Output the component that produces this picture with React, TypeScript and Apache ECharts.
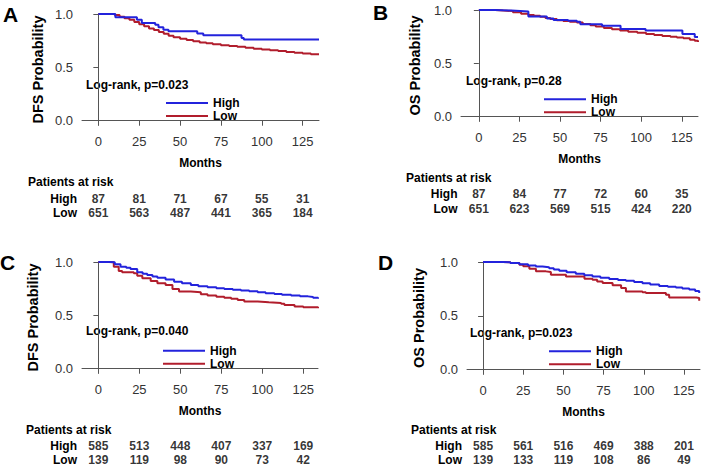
import React, { useEffect, useRef } from "react";
import * as echarts from "echarts";

const FONT = "'Liberation Sans', Arial, Helvetica, sans-serif";
const BLUE = "#2323dc";
const RED = "#b11d2c";

// Time points of the at-risk table (months)
const riskMonths = [0, 25, 50, 75, 100, 125];
const xTicks = [0, 25, 50, 75, 100, 125];
const yTicks = [0, 0.5, 1];

// Panel A (DFS)
const riskA_high = [87, 81, 71, 67, 55, 31];
const riskA_low = [651, 563, 487, 441, 365, 184];
const curveA_high = [[0, 1], [10.4, 0.97], [23.6, 0.947], [26.6, 0.916], [34.8, 0.9], [36.8, 0.876], [39.8, 0.853], [42.9, 0.838], [60.5, 0.817], [64.2, 0.8], [87.6, 0.776], [89, 0.76], [135, 0.76]];
const curveA_low = [[0, 1], [8, 1], [10, 0.99], [13, 0.975], [16, 0.96], [19, 0.945], [22, 0.925], [25, 0.905], [28, 0.885], [31, 0.865], [34, 0.85], [37, 0.832], [40, 0.815], [43, 0.797], [46, 0.782], [50, 0.768], [54, 0.757], [58, 0.745], [62, 0.734], [66, 0.725], [70, 0.717], [75, 0.708], [80, 0.7], [85, 0.692], [90, 0.683], [95, 0.675], [100, 0.668], [105, 0.66], [110, 0.653], [115, 0.645], [120, 0.638], [125, 0.63], [130, 0.622], [135, 0.617]];

// Panel B (OS)
const riskB_high = [87, 84, 77, 72, 60, 35];
const riskB_low = [651, 623, 569, 515, 424, 220];
const curveB_high = [[0, 1], [10, 0.995], [20, 0.99], [25.4, 0.985], [30.5, 0.94], [41.9, 0.92], [46, 0.907], [55, 0.9], [60.4, 0.89], [62.5, 0.866], [75.9, 0.853], [87.3, 0.822], [102.7, 0.807], [125.4, 0.776], [133, 0.748], [135, 0.748]];
const curveB_low = [[0, 1], [10, 0.995], [15, 0.99], [21, 0.978], [26, 0.965], [30.5, 0.953], [34, 0.945], [37.7, 0.937], [41, 0.925], [44, 0.915], [48, 0.905], [52, 0.897], [56, 0.89], [60.4, 0.883], [64, 0.87], [68.7, 0.857], [72, 0.845], [77, 0.832], [82, 0.82], [87, 0.808], [92, 0.796], [97.6, 0.787], [103, 0.776], [108, 0.766], [113, 0.757], [118, 0.749], [122, 0.742], [126, 0.735], [130, 0.722], [133, 0.712], [135, 0.7]];

// Panel C (DFS)
const riskC_high = [585, 513, 448, 407, 337, 169];
const riskC_low = [139, 119, 98, 90, 73, 42];
const curveC_high = [[0, 1], [7.4, 0.997], [10, 0.98], [13.5, 0.956], [17, 0.945], [19.6, 0.935], [23.7, 0.903], [27, 0.89], [29.8, 0.878], [33, 0.865], [36, 0.853], [41, 0.835], [46.2, 0.816], [51, 0.8], [56.4, 0.785], [61, 0.773], [66.6, 0.763], [72, 0.755], [76.8, 0.748], [82, 0.74], [87, 0.732], [92, 0.725], [97.2, 0.717], [102, 0.708], [107.4, 0.7], [112, 0.692], [117.6, 0.685], [123, 0.678], [127.9, 0.672], [131, 0.665], [134, 0.655]];
const curveC_low = [[0, 1], [6.3, 0.997], [9.4, 0.956], [12.4, 0.916], [14.5, 0.903], [21.6, 0.894], [23.7, 0.872], [26.8, 0.847], [31.9, 0.822], [36, 0.8], [41, 0.785], [45.2, 0.748], [49.2, 0.723], [56.4, 0.717], [62.5, 0.698], [66.6, 0.685], [72, 0.675], [76.8, 0.666], [81, 0.655], [85, 0.645], [89, 0.629], [97.2, 0.623], [104, 0.617], [111.5, 0.61], [113.5, 0.598], [119.7, 0.582], [125, 0.575], [134, 0.567]];

// Panel D (OS)
const riskD_high = [585, 561, 516, 469, 388, 201];
const riskD_low = [139, 133, 119, 108, 86, 49];
const curveD_high = [[0, 1], [12.3, 0.998], [17, 0.99], [22.6, 0.98], [28, 0.968], [32.9, 0.958], [37, 0.952], [41.1, 0.943], [44, 0.93], [47.4, 0.918], [52, 0.905], [57.7, 0.89], [63, 0.877], [68.1, 0.865], [73, 0.854], [78.5, 0.843], [84, 0.834], [88.9, 0.825], [94, 0.814], [99.2, 0.803], [104, 0.79], [109.6, 0.778], [115, 0.77], [120, 0.763], [124, 0.755], [128.3, 0.745], [132, 0.73], [134.5, 0.712]];
const curveD_low = [[0, 1], [12.3, 0.998], [17, 0.99], [22.6, 0.975], [25, 0.96], [28.8, 0.938], [32.9, 0.913], [39.1, 0.907], [42.2, 0.882], [51.6, 0.866], [63.1, 0.845], [68.1, 0.835], [71, 0.82], [74.4, 0.805], [80.6, 0.783], [85.9, 0.758], [88.9, 0.727], [99.2, 0.72], [101.3, 0.712], [113.8, 0.696], [115.8, 0.671], [132.7, 0.665], [134.5, 0.64]];

type Panel = {
  letter: string; yName: string; pText: string;
  high: number[][]; low: number[][]; riskHigh: number[]; riskLow: number[];
  grid: { left: number; top: number; width: number; height: number };
  xMin: number; xMax: number; yNameGap: number;
  risk: { top: number; height: number; labelMargin: number };
  letterPos: [number, number]; pPos: [number, number]; patPos: [number, number]; legendPos: [number, number];
};

const panels: Panel[] = [
  { letter: "A", yName: "DFS Probability", pText: "Log-rank, p=0.023", high: curveA_high, low: curveA_low, riskHigh: riskA_high, riskLow: riskA_low,
    grid: { left: 82, top: 14, width: 237, height: 111 }, xMin: -10, xMax: 135, yNameGap: 37,
    risk: { top: 199, height: 13.7, labelMargin: 5 }, letterPos: [3, 14.5], pPos: [86, 85], patPos: [28, 182], legendPos: [166, 96.5] },
  { letter: "B", yName: "OS Probability", pText: "Log-rank, p=0.28", high: curveB_high, low: curveB_low, riskHigh: riskB_high, riskLow: riskB_low,
    grid: { left: 461, top: 10, width: 237, height: 111 }, xMin: -11, xMax: 135, yNameGap: 39,
    risk: { top: 194.3, height: 15, labelMargin: 3.5 }, letterPos: [373, 13], pPos: [466, 81], patPos: [406, 178.3], legendPos: [544, 92.8] },
  { letter: "C", yName: "DFS Probability", pText: "Log-rank, p=0.040", high: curveC_high, low: curveC_low, riskHigh: riskC_high, riskLow: riskC_low,
    grid: { left: 82, top: 262, width: 236, height: 111 }, xMin: -10, xMax: 134, yNameGap: 42,
    risk: { top: 446.3, height: 14.4, labelMargin: 5 }, letterPos: [0, 262.5], pPos: [86, 331.3], patPos: [26, 429.7], legendPos: [163, 344.2] },
  { letter: "D", yName: "OS Probability", pText: "Log-rank, p=0.023", high: curveD_high, low: curveD_low, riskHigh: riskD_high, riskLow: riskD_low,
    grid: { left: 467, top: 262, width: 233, height: 112 }, xMin: -10, xMax: 135, yNameGap: 41,
    risk: { top: 446.3, height: 15, labelMargin: 5 }, letterPos: [378, 262.5], pPos: [470, 333], patPos: [411, 430.3], legendPos: [549, 344.8] },
];

function buildOption() {
  const grid: any[] = [];
  const xAxis: any[] = [];
  const yAxis: any[] = [];
  const series: any[] = [];
  const legend: any[] = [];
  const graphic: any[] = [];
  const axisColor = "#555";

  panels.forEach((p, i) => {
    const gi = i * 2;
    grid.push({ ...p.grid });
    grid.push({ left: p.grid.left, width: p.grid.width, top: p.risk.top, height: p.risk.height });

    xAxis.push({
      type: "value", gridIndex: gi, min: p.xMin, max: p.xMax,
      name: "Months", nameLocation: "middle", nameGap: 32,
      nameTextStyle: { fontFamily: FONT, fontSize: 12, fontWeight: "bold", color: "#000" },
      axisLine: { show: true, lineStyle: { color: axisColor, width: 1 } },
      axisTick: { show: true, length: 5, customValues: xTicks, lineStyle: { color: axisColor } },
      axisLabel: { customValues: xTicks, margin: 10, fontFamily: FONT, fontSize: 13, color: "#333" },
      splitLine: { show: false },
    });
    xAxis.push({ type: "value", gridIndex: gi + 1, min: p.xMin, max: p.xMax, show: false });

    yAxis.push({
      type: "value", gridIndex: gi, min: -0.04, max: 1,
      name: p.yName, nameLocation: "middle", nameGap: p.yNameGap, nameRotate: 90,
      nameTextStyle: { fontFamily: FONT, fontSize: 14.5, fontWeight: "bold", color: "#000" },
      axisLine: { show: true, lineStyle: { color: axisColor, width: 1 } },
      axisTick: { show: true, length: 5, customValues: yTicks, lineStyle: { color: axisColor } },
      axisLabel: { customValues: yTicks, margin: 9, fontFamily: FONT, fontSize: 13, color: "#333", formatter: (v: number) => v.toFixed(1) },
      splitLine: { show: false },
    });
    yAxis.push({
      type: "category", gridIndex: gi + 1, data: ["Low", "High"], boundaryGap: false,
      axisLine: { show: false }, axisTick: { show: false }, splitLine: { show: false },
      axisLabel: {
        interval: 0, showMinLabel: true, showMaxLabel: true, hideOverlap: false,
        margin: p.risk.labelMargin, fontFamily: FONT, fontSize: 12, fontWeight: "bold", color: "#000",
      },
    });

    series.push({
      name: "High", type: "line", step: "end", xAxisIndex: gi, yAxisIndex: gi, data: p.high,
      showSymbol: false, symbol: "none", color: BLUE, itemStyle: { color: BLUE },
      lineStyle: { color: BLUE, width: 2 }, z: 3,
    });
    series.push({
      name: "Low", type: "line", step: "end", xAxisIndex: gi, yAxisIndex: gi, data: p.low,
      showSymbol: false, symbol: "none", color: RED, itemStyle: { color: RED },
      lineStyle: { color: RED, width: 2 }, z: 2,
    });
    const riskData = [
      ...riskMonths.map((m, k) => [m, "High", p.riskHigh[k]]),
      ...riskMonths.map((m, k) => [m, "Low", p.riskLow[k]]),
    ];
    series.push({
      name: "risk" + p.letter, type: "scatter", xAxisIndex: gi + 1, yAxisIndex: gi + 1, data: riskData,
      symbolSize: 1, itemStyle: { color: "rgba(0,0,0,0)" }, silent: true,
      label: {
        show: true, position: "inside", formatter: (q: any) => String(q.value[2]),
        fontFamily: FONT, fontSize: 12, fontWeight: "bold", color: "#000",
      },
    });

    legend.push({
      data: ["High", "Low"], orient: "vertical", left: p.legendPos[0], top: p.legendPos[1],
      padding: 0, itemGap: 0, itemWidth: 42, itemHeight: 2, icon: "rect", selectedMode: false,
      textStyle: { fontFamily: FONT, fontSize: 12, fontWeight: "bold", color: "#000", lineHeight: 13 },
    });

    graphic.push({
      type: "text", left: p.letterPos[0], top: p.letterPos[1] - 11,
      style: { text: p.letter, font: `bold 21px ${FONT}`, fill: "#000" },
    });
    graphic.push({
      type: "text", x: p.pPos[0], y: p.pPos[1],
      style: { text: p.pText, font: `bold 12px ${FONT}`, fill: "#000", verticalAlign: "middle" },
    });
    graphic.push({
      type: "text", x: p.patPos[0], y: p.patPos[1],
      style: { text: "Patients at risk", font: `bold 12px ${FONT}`, fill: "#000", verticalAlign: "middle" },
    });
  });

  return { animation: false, backgroundColor: "#fff", grid, xAxis, yAxis, series, legend, graphic };
}

export default function App() {
  const ref = useRef<HTMLDivElement>(null);
  useEffect(() => {
    if (!ref.current) return;
    const chart = echarts.init(ref.current, undefined, { renderer: "svg" });
    chart.setOption(buildOption() as any);
    return () => chart.dispose();
  }, []);
  return <div ref={ref} style={{ width: 702, height: 466, position: "absolute", left: 0, top: 0, background: "#fff" }} />;
}
